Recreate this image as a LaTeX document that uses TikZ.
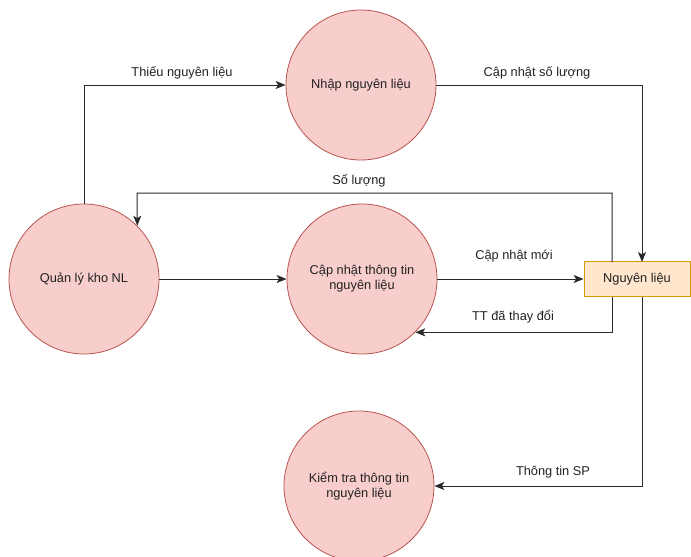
\documentclass[tikz,border=0pt]{standalone}
\usepackage{fontspec}
\setmainfont{Liberation Sans}
\usetikzlibrary{arrows.meta}
\definecolor{cfill}{HTML}{F8CECC}
\definecolor{cdraw}{HTML}{B85450}
\definecolor{bfill}{HTML}{FFE6CC}
\definecolor{bdraw}{HTML}{D79B00}
\definecolor{lcol}{HTML}{2A2A2A}
\definecolor{tcol}{HTML}{222222}
\begin{document}
\begin{tikzpicture}[x=1pt,y=-1pt,
  proc/.style={circle,draw=cdraw,fill=cfill,minimum size=150pt,inner sep=0pt,align=center,text=tcol,font=\fontsize{12.8}{15}\selectfont,line width=0.8pt},
  store/.style={rectangle,draw=bdraw,fill=bfill,minimum width=106pt,minimum height=35pt,inner sep=0pt,text=tcol,font=\fontsize{12.8}{15}\selectfont,line width=0.8pt},
  flow/.style={draw=lcol,line width=1pt,-{Stealth[length=10pt,width=8pt,inset=2.5pt]}},
  lbl/.style={text=tcol,font=\fontsize{12.8}{15}\selectfont,inner sep=0pt}]
\useasboundingbox (0,0) rectangle (691,557);
\begin{scope}
\clip (0,0) rectangle (691,557);
\node[proc] (np) at (361,85) {Nhập nguyên liệu};
\node[proc] (ql) at (84,279) {Quản lý kho NL};
\node[proc] (cu) at (362,279) {Cập nhật thông tin\\nguyên liệu};
\node[proc] (kt) at (359,486) {Kiểm tra thông tin\\nguyên liệu};
\node[store] (nl) at (637,279) {Nguyên liệu};

\coordinate (a1) at (612,262);
\coordinate (a2) at (642,262);
\coordinate (b1) at (612,297);
\coordinate (b2) at (642,297);

\draw[flow] (ql.north) |- (np.west);
\draw[flow] (np.east) -| (a2);
\draw[flow] (a1) |- (137,193) -- (ql.45);
\draw[flow] (ql.east) -- (cu.west);
\draw[flow] (cu.east) -- (nl.west);
\draw[flow] (b1) |- (cu.-45);
\draw[flow] (b2) |- (kt.east);

\node[lbl] (l1) at (182,73) {Thiếu nguyên liệu};
\node[lbl] (l2) at (537,73) {Cập nhật số lượng};
\node[lbl] (l3) at (359,181) {Số lượng};
\node[lbl] (l4) at (514,256) {Cập nhật mới};
\node[lbl] (l5) at (513,317) {TT đã thay đổi};
\node[lbl] (l6) at (553,472) {Thông tin SP};
\end{scope}
\end{tikzpicture}
\end{document}
